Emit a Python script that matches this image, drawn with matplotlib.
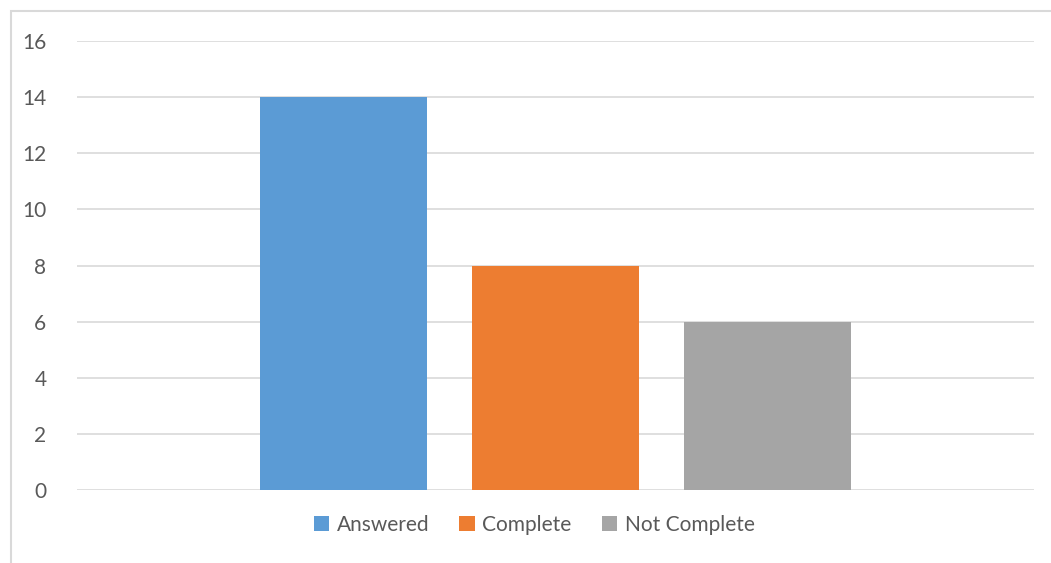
import matplotlib
matplotlib.use("Agg")
import matplotlib.pyplot as plt
from matplotlib.patches import Rectangle

series = ["Answered", "Complete", "Not Complete"]
values = [14, 8, 6]
colors = ["#5B9BD5", "#ED7D31", "#A5A5A5"]
yticks = [0, 2, 4, 6, 8, 10, 12, 14, 16]

plt.rcParams["font.family"] = ["Lato", "DejaVu Sans"]

W, H = 1051, 563
fig = plt.figure(figsize=(W / 100, H / 100), dpi=100)

# chart area frame
fig.patches.append(Rectangle((11 / W, -0.1), 1.2, 1 - 11 / H + 0.1,
                             transform=fig.transFigure, fill=False,
                             edgecolor="#D9D9D9", linewidth=1.5, zorder=0))

ax = fig.add_axes([77 / W, (H - 490) / H, (1034 - 77) / W, (490 - 41) / H])
for i, (name, v, c) in enumerate(zip(series, values, colors)):
    ax.bar(i, v, width=0.788, color=c, label=name, zorder=2)

ax.set_xlim(-1.257, 3.257)
ax.set_ylim(0, 16)
ax.set_yticks(yticks)
ax.set_xticks([])
ax.grid(axis="y", color="#D9D9D9", linewidth=1.2, zorder=0)
for s in ax.spines.values():
    s.set_visible(False)
ax.tick_params(axis="y", length=0, pad=22, labelsize=15, labelcolor="#595959")

leg = fig.legend(loc="center", bbox_to_anchor=(534 / W, 1 - 525 / H), ncol=3,
                 frameon=False, fontsize=15, handlelength=0.75, handleheight=0.75,
                 handletextpad=0.35, columnspacing=1.45, labelcolor="#595959")

fig.savefig("out.png", dpi=100, facecolor="white")
